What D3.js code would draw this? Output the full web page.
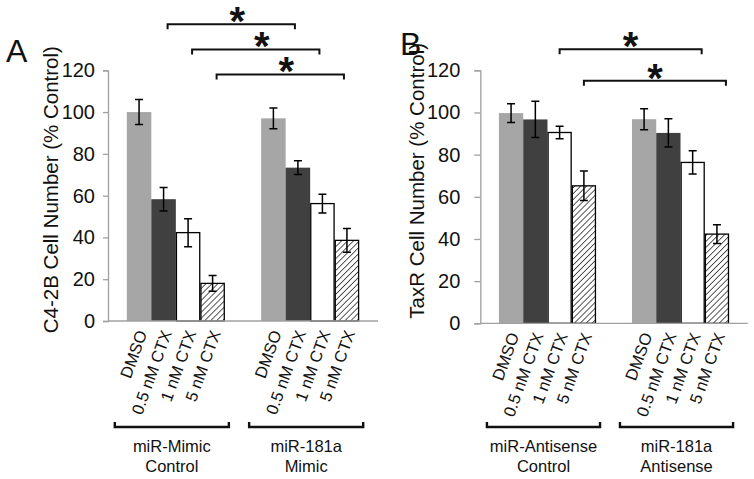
<!DOCTYPE html>
<html><head><meta charset="utf-8">
<script src="https://cdn.jsdelivr.net/npm/d3@7"></script>
<style>body{margin:0;background:#fff}svg{display:block}text{font-family:"Liberation Sans",Arimo,Arial,sans-serif}</style>
</head><body><svg id="c" width="754" height="479" font-family="Liberation Sans, Arial, sans-serif"></svg>
<script>
const treatments = ["DMSO", "0.5 nM CTX", "1 nM CTX", "5 nM CTX"];
const yTicks = [0, 20, 40, 60, 80, 100, 120];

const groupsA = ["miR-Mimic|Control", "miR-181a|Mimic"];
const meanA = [[100, 58.3, 42.3, 18.0], [97.0, 73.4, 56.2, 38.6]];
const errA  = [[6.0, 5.6, 6.7, 3.8], [5.0, 3.3, 4.5, 5.7]];
const sigA = [[1, 1, 142], [2, 2, 130], [3, 3, 118]]; // treatment in group1, treatment in group2, level

const groupsB = ["miR-Antisense|Control", "miR-181a|Antisense"];
const meanB = [[99.7, 96.7, 90.5, 65.2], [96.8, 90.3, 76.3, 42.3]];
const errB  = [[4.4, 8.6, 3.0, 7.0], [5.0, 6.7, 5.5, 4.5]];
const sigB = [[2, 2, 130], [3, 3, 115]];

const yTitleA = "C4-2B Cell Number (% Control)";
const yTitleB = "TaxR Cell Number (% Control)";

const svg = d3.select("#c");
const defs = svg.append("defs");
const pat = defs.append("pattern").attr("id", "hatch").attr("patternUnits", "userSpaceOnUse")
  .attr("width", 4.2).attr("height", 4.2).attr("patternTransform", "rotate(45)");
pat.append("rect").attr("width", 4.2).attr("height", 4.2).attr("fill", "#fff");
pat.append("line").attr("x1", 0).attr("y1", 0).attr("x2", 0).attr("y2", 4.2).attr("stroke", "#000").attr("stroke-width", 1.3);

const fills = ["#a6a6a6", "#404040", "#ffffff", "url(#hatch)"];
const strokes = ["none", "none", "#000", "#000"];

function panel(cfg) {
  const g = svg.append("g");
  const y = d3.scaleLinear().domain([0, 120]).range([cfg.y0, cfg.y120]);
  const gx = d3.scaleBand().domain(cfg.groups).range([cfg.xL, cfg.xR]).paddingInner(0.27).paddingOuter(0.14);
  const tx = d3.scaleBand().domain(treatments).range([0, gx.bandwidth()]).padding(0);

  // y axis
  const ax = g.append("g").attr("transform", `translate(${cfg.xL},0)`)
    .call(d3.axisLeft(y).tickValues(yTicks).tickSize(cfg.tick).tickPadding(cfg.pad));
  ax.attr("font-family", null);
  ax.select(".domain").attr("stroke", "#a0a0a0").attr("stroke-width", 1.3);
  ax.selectAll(".tick line").attr("stroke", "#a0a0a0").attr("stroke-width", 1.3);
  ax.selectAll(".tick text").attr("font-size", 20).attr("fill", "#111");

  // bars
  cfg.groups.forEach((grp, gi) => {
    const gg = g.append("g").attr("transform", `translate(${gx(grp)},0)`);
    treatments.forEach((t, ti) => {
      const v = cfg.mean[gi][ti], e = cfg.err[gi][ti];
      const x0 = tx(t), w = tx.bandwidth();
      gg.append("rect").attr("x", x0 + (strokes[ti] === "none" ? 0 : 0.6)).attr("y", y(v))
        .attr("width", w - (strokes[ti] === "none" ? 0 : 1.2)).attr("height", y(0) - y(v))
        .attr("fill", fills[ti]).attr("stroke", strokes[ti]).attr("stroke-width", 1.3);
      const cx = x0 + w / 2;
      gg.append("path").attr("d", `M${cx - 4},${y(v + e)}H${cx + 4}M${cx},${y(v + e)}V${y(v - e)}M${cx - 4},${y(v - e)}H${cx + 4}`)
        .attr("stroke", "#000").attr("stroke-width", 1.5).attr("fill", "none");
      // category label
      g.append("text").attr("transform", `translate(${gx(grp) + cx + 3},${cfg.y0 + 10}) rotate(-70)`)
        .attr("text-anchor", "end").attr("dy", "0.35em").attr("font-size", 16.5).attr("fill", "#111").text(t);
    });
    // group bracket
    const bL = gx(grp) - 12, bR = gx(grp) + gx.bandwidth() + 4, by = cfg.gby;
    g.append("path").attr("d", `M${bL},${by - 5}V${by}H${bR}V${by - 5}`)
      .attr("stroke", "#111").attr("stroke-width", 2.4).attr("fill", "none");
    const lines = grp.split("|");
    lines.forEach((ln, li) => {
      g.append("text").attr("x", (bL + bR) / 2).attr("y", by + 25 + li * 20).attr("text-anchor", "middle")
        .attr("font-size", 16.5).attr("fill", "#111").text(ln);
    });
  });

  // x axis line
  g.append("line").attr("x1", cfg.xL).attr("x2", cfg.xR).attr("y1", y(0)).attr("y2", y(0))
    .attr("stroke", "#a0a0a0").attr("stroke-width", 1.3);

  // significance brackets
  cfg.sig.forEach(([a, b, lvl]) => {
    const xa = gx(cfg.groups[0]) + tx(treatments[a]) + tx.bandwidth() / 2 + cfg.sigOffL;
    const xb = gx(cfg.groups[1]) + tx(treatments[b]) + tx.bandwidth() / 2 + cfg.sigOffR;
    const yy = y(lvl);
    g.append("path").attr("d", `M${xa},${yy + 5}V${yy}H${xb}V${yy + 5}`)
      .attr("stroke", "#111").attr("stroke-width", 2).attr("fill", "none");
    g.append("text").attr("x", (xa + xb) / 2 + cfg.starOff).attr("y", yy + 11).attr("text-anchor", "middle")
      .attr("font-size", 40).attr("font-weight", "bold").attr("fill", "#111").text("*");
  });

  // y title
  g.append("text").attr("transform", `translate(${cfg.titleX},${(cfg.y0 + cfg.y120) / 2 + cfg.titleDy}) rotate(-90)`)
    .attr("text-anchor", "middle").attr("font-size", 20.5).attr("fill", "#111").text(cfg.title);

  // panel letter
  g.append("text").attr("x", cfg.letterX).attr("y", cfg.letterY).attr("font-size", 32).attr("fill", "#111").text(cfg.letter);
}

panel({groups: groupsA, mean: meanA, err: errA, sig: sigA, xL: 108, xR: 378, y0: 321, y120: 70.3,
  tick: 5, pad: 8, gby: 427, sigOffL: 4, sigOffR: -3, starOff: 6, title: yTitleA, titleX: 58, titleDy: -6,
  letter: "A", letterX: 6, letterY: 62});
panel({groups: groupsB, mean: meanB, err: errB, sig: sigB, xL: 480.3, xR: 747.7, y0: 323.3, y120: 70.3,
  tick: 6, pad: 14, gby: 427, sigOffL: 0, sigOffR: 9, starOff: 0, title: yTitleB, titleX: 424, titleDy: -16,
  letter: "B", letterX: 400, letterY: 55});
</script></body></html>
